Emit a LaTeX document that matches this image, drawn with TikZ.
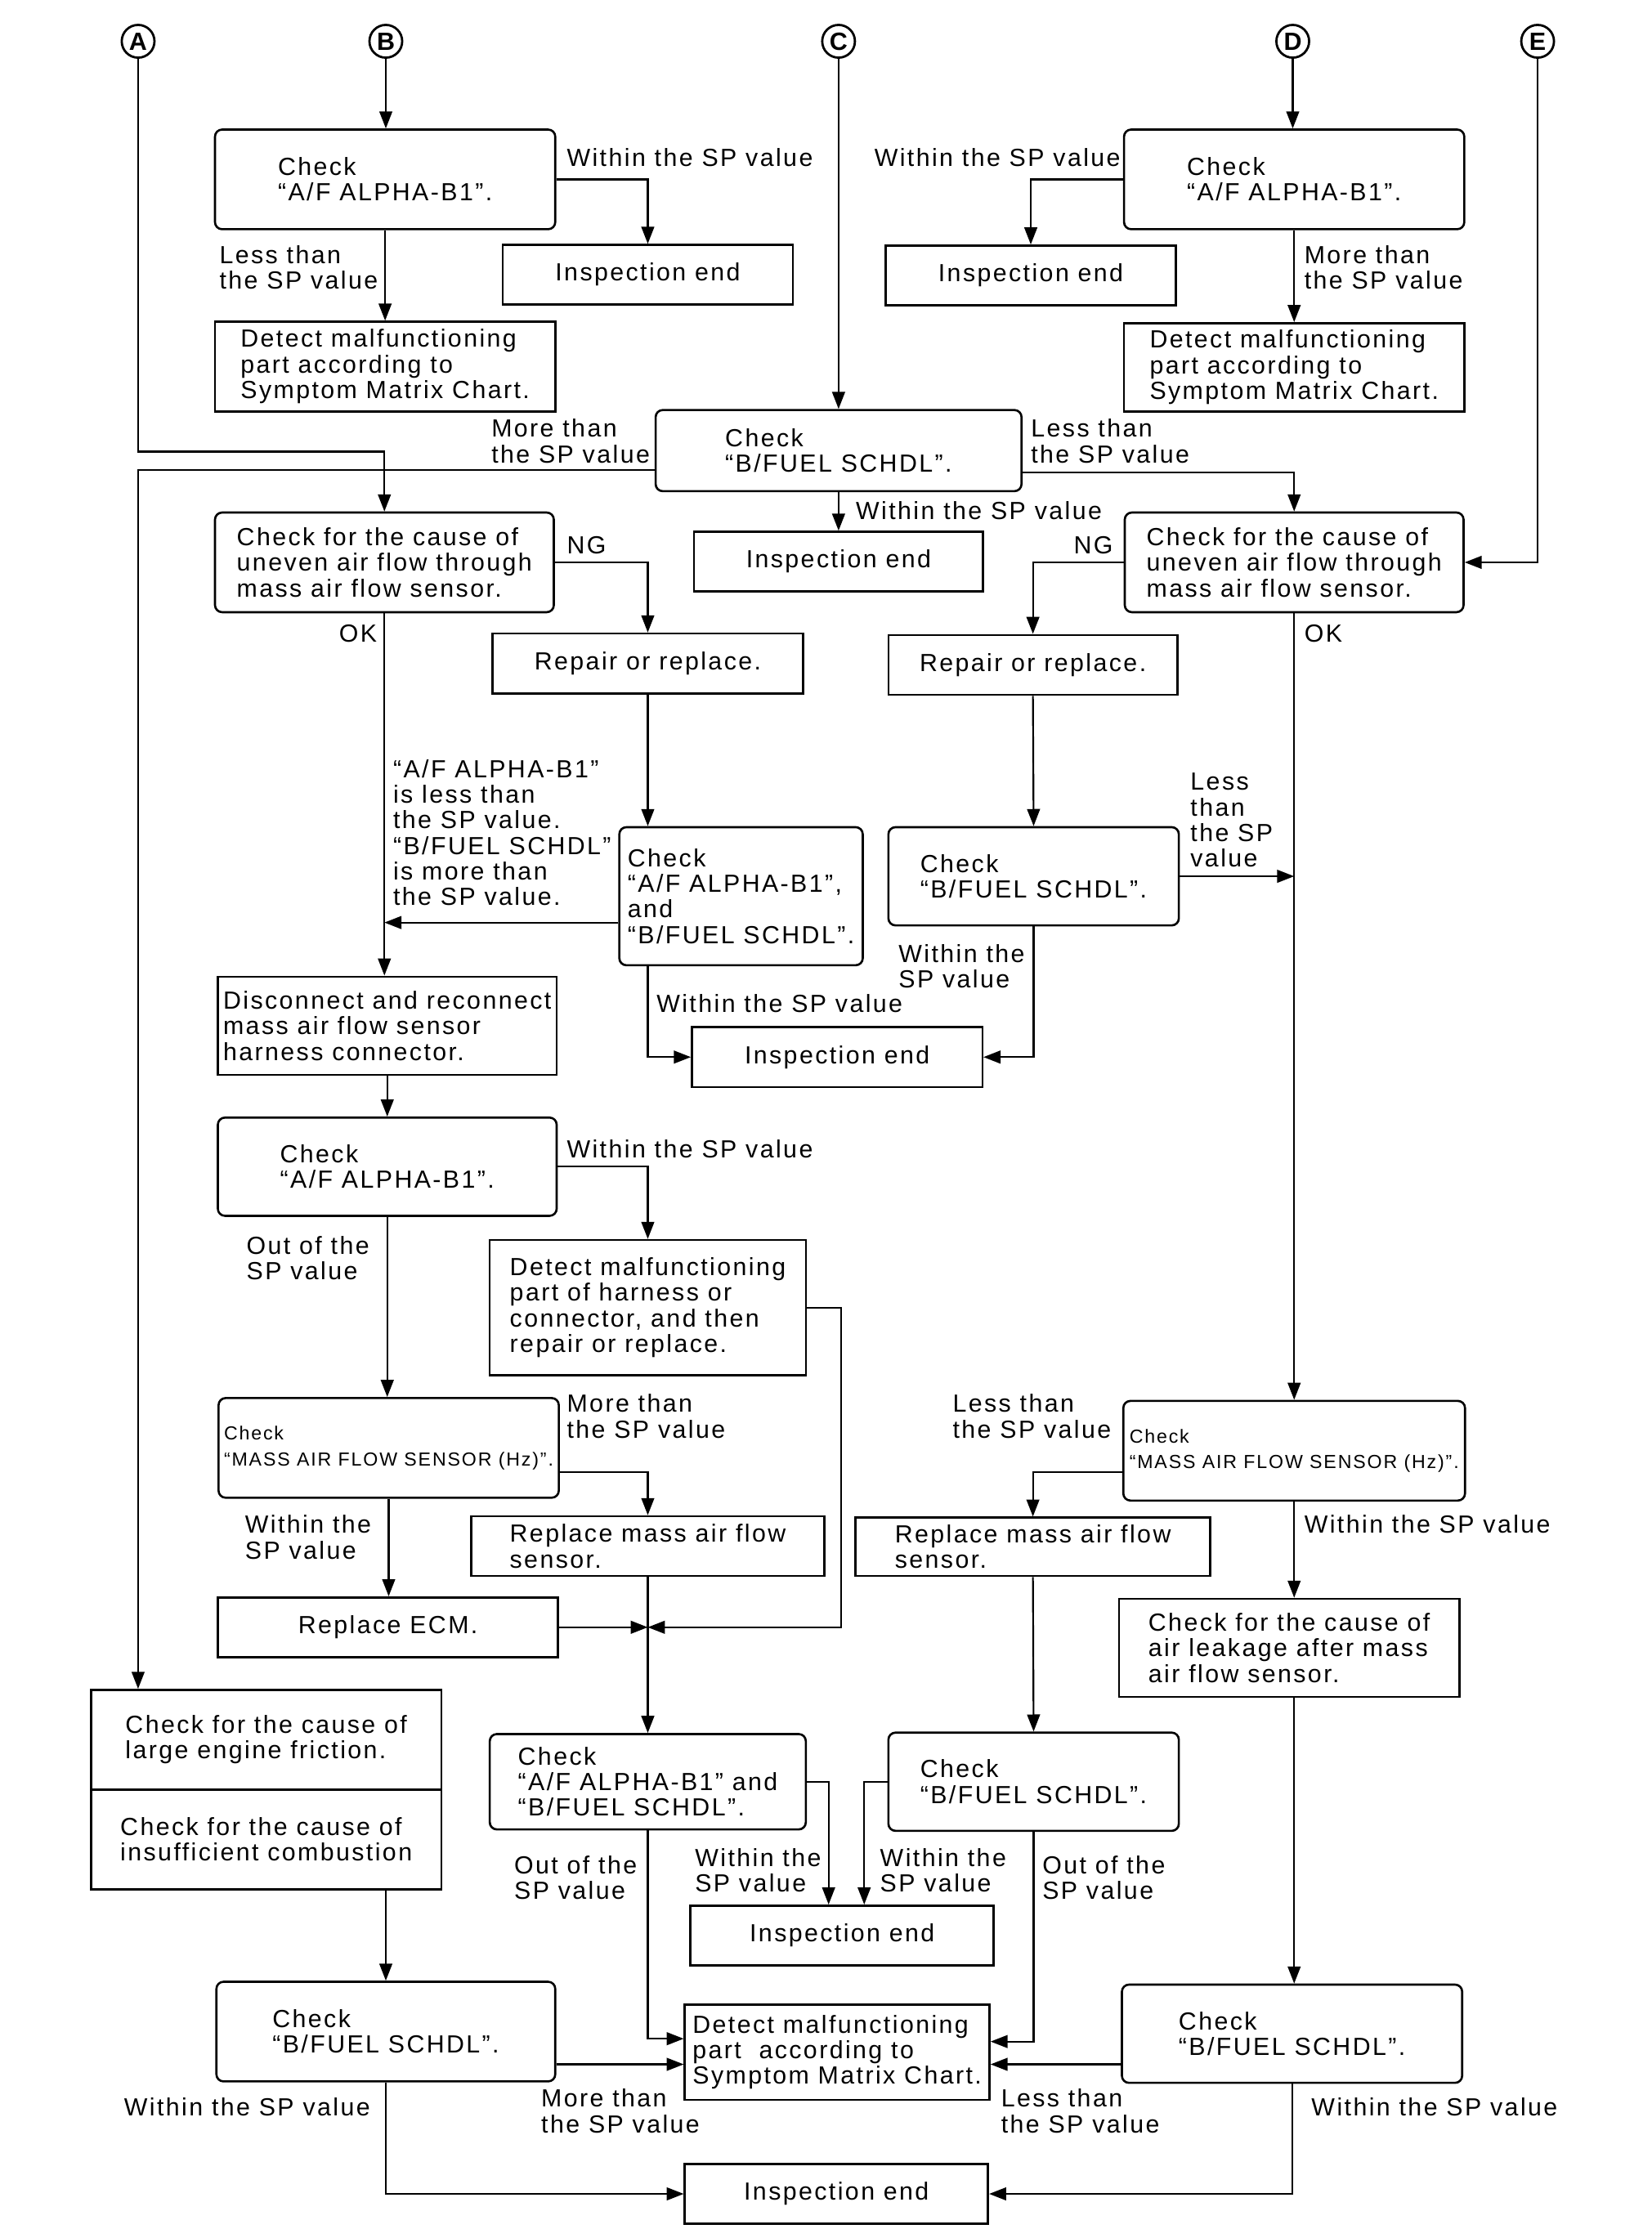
\documentclass[tikz,border=0pt]{standalone}
\usepackage{fontspec}
\setmainfont{Liberation Sans}[LetterSpace=8]
\usetikzlibrary{arrows.meta}
\tikzstyle{rbox}=[draw,line width=1.5pt,rounded corners=5pt,align=left,inner sep=0pt]
\tikzstyle{sbox}=[draw,line width=1.5pt,align=left,inner sep=0pt]
\tikzstyle{flow}=[draw,line width=1.25pt,-{Triangle[length=12pt,width=9pt]}]
\tikzstyle{lbl}=[anchor=base west,align=left,inner sep=0pt]
\tikzstyle{connector}=[circle,draw,line width=1.6pt,minimum size=23pt,inner sep=0pt,font=\fontsize{17.5}{18}\selectfont\bfseries]
\tikzstyle{small}=[font=\fontsize{13.3}{18}\selectfont]

\begin{document}
\begin{tikzpicture}[x=1pt,y=-1pt,font=\fontsize{17.4}{18}\selectfont]
    \path[use as bounding box,fill=white] (0,0) rectangle (1160,1572);

    % First the circled letters
    \foreach \pos/ \name in {{(97,29)/A},{(271,29)/B},{(589,29)/C},{(908,29)/D},{(1080,29)/E}}
        \node[connector] (\name) at \pos {\name};

    % The boxes
    \node[rbox,minimum width=239pt,minimum height=70pt] (ba1) at (270.5,126) {Check\\“A/F ALPHA-B1”.};
    \node[sbox,minimum width=239pt,minimum height=63pt] (dm1) at (270.5,257.5) {Detect malfunctioning\\part according to\\Symptom Matrix Chart.};
    \node[rbox,minimum width=239pt,minimum height=70pt] (bd1) at (909,126) {Check\\“A/F ALPHA-B1”.};
    \node[sbox,minimum width=239pt,minimum height=62pt] (dm2) at (909,258) {Detect malfunctioning\\part according to\\Symptom Matrix Chart.};
    \node[rbox,minimum width=257pt,minimum height=57pt] (bf1) at (589,316.5) {Check\\“B/FUEL SCHDL”.};
    \node[rbox,minimum width=238pt,minimum height=70pt] (ul) at (270,395) {Check for the cause of\\uneven air flow through\\mass air flow sensor.};
    \node[rbox,minimum width=238pt,minimum height=70pt] (ur) at (909,395) {Check for the cause of\\uneven air flow through\\mass air flow sensor.};
    \node[sbox,minimum width=218pt,minimum height=42pt] (rr1) at (455,466) {Repair or replace.};
    \node[sbox,minimum width=203pt,minimum height=42pt] (rr2) at (725.5,467) {Repair or replace.};
    \node[rbox,minimum width=171pt,minimum height=97pt] (cab) at (520.5,629.5) {Check\\“A/F ALPHA-B1”,\\and\\“B/FUEL SCHDL”.};
    \node[rbox,minimum width=204pt,minimum height=69pt] (cb2) at (726,615.5) {Check\\“B/FUEL SCHDL”.};
    \node[sbox,minimum width=238pt,minimum height=69pt] (dr) at (272,720.5) {Disconnect and reconnect\\mass air flow sensor\\harness connector.};
    \node[rbox,minimum width=238pt,minimum height=69pt] (ba3) at (272,819.5) {Check\\“A/F ALPHA-B1”.};
    \node[sbox,minimum width=222pt,minimum height=95pt] (dh) at (455,918.5) {Detect malfunctioning\\part of harness or\\connector, and then\\repair or replace.};
    \node[rbox,small,minimum width=239pt,minimum height=70pt] (ma) at (273,1017) {Check\\“MASS AIR FLOW SENSOR (Hz)”.};
    \node[sbox,minimum width=248pt,minimum height=42pt] (rm1) at (455,1086) {Replace mass air flow\\sensor.};
    \node[sbox,minimum width=239pt,minimum height=42pt] (re) at (272.5,1143) {Replace ECM.};
    \node[rbox,minimum width=222pt,minimum height=67pt] (cab2) at (455,1251.5) {Check\\“A/F ALPHA-B1” and\\“B/FUEL SCHDL”.};
    \node[rbox,small,minimum width=240pt,minimum height=70pt] (mr) at (909,1019) {Check\\“MASS AIR FLOW SENSOR (Hz)”.};
    \node[sbox,minimum width=249pt,minimum height=41pt] (rm2) at (725.5,1086.5) {Replace mass air flow\\sensor.};
    \node[sbox,minimum width=239pt,minimum height=69pt] (cl) at (905.5,1157.5) {Check for the cause of\\air leakage after mass\\air flow sensor.};
    \node[rbox,minimum width=204pt,minimum height=69pt] (cb3) at (726,1251.5) {Check\\“B/FUEL SCHDL”.};
    \node[sbox,minimum width=246pt,minimum height=70pt] (ef1) at (187,1222) {Check for the cause of\\large engine friction.};
    \node[sbox,minimum width=246pt,minimum height=70pt] (ef2) at (187,1292) {Check for the cause of\\insufficient combustion};
    \node[rbox,minimum width=238pt,minimum height=70pt] (cb4) at (271,1427) {Check\\“B/FUEL SCHDL”.};
    \node[rbox,minimum width=239pt,minimum height=69pt] (cb5) at (907.5,1428.5) {Check\\“B/FUEL SCHDL”.};
    \node[sbox,minimum width=214pt,minimum height=67pt] (dm3) at (588,1441.5) {Detect malfunctioning\\part~ according to\\Symptom Matrix Chart.};

    \foreach \pos/ \name/ \w in {{(455,193)/ie1/204},{(724,193.5)/ie2/204},{(589,394.5)/ie3/203},
                                 {(588,742.5)/ie4/204},{(591.5,1359.5)/ie5/213},{(587.5,1541)/ie6/213}}
        \node[sbox,minimum width=\w pt,minimum height=42pt] (\name) at \pos {Inspection end};

    % Connect the letters
    \draw[flow] (B) -- (B |- ba1.north);
    \draw[flow] (C) -- (C |- bf1.north);
    \draw[flow] (D) -- (D |- bd1.north);
    \draw[flow] (E) |- (ur.east);
    \draw[flow] (A) |- ([yshift=42pt]ul.north) -- (ul.north);

    % Top checks
    \draw[flow] (ba1.east) -| (ie1.north);
    \draw[flow] (ba1.south) -- (dm1.north);
    \draw[flow] (bd1.west) -| (ie2.north);
    \draw[flow] (bd1.south) -- (dm2.north);

    \coordinate (bfl) at ([yshift=-13.5pt]bf1.west);
    \coordinate (bfr) at ([yshift=-15.5pt]bf1.east);
    \draw[flow] (bfl) -| (A |- ef1.north);
    \draw[flow] (bfr) -| (ur.north);
    \draw[flow] (bf1.south) -- (bf1.south |- ie3.north);

    % Uneven air flow
    \draw[flow] (ul.east) -| (rr1.north);
    \draw[flow] (ur.west) -| (rr2.north);
    \draw[flow] (ul.south) -- (ul.south |- dr.north);
    \draw[flow] (rr1.south) -- (rr1.south |- cab.north);
    \coordinate (cabl) at ([yshift=-18.5pt]cab.west);
    \draw[flow] (cabl) -- (cabl -| ul.south);
    \draw[flow] (rr1.south |- cab.south) |- (ie4.west);
    \draw[flow] (rr2.south) -- (cb2.north);
    \draw[flow] (cb2.east) -- (cb2.east -| ur.south);
    \draw[flow] (cb2.south) |- (ie4.east);
    \draw[flow] (ur.south) -- (ur.south |- mr.north);

    % Harness connector and sensor
    \draw[flow] (dr.south) -- (ba3.north);
    \draw[flow] (ba3.east) -| (dh.north);
    \draw[flow] (ba3.south) -- (ba3.south |- ma.north);
    \coordinate (mg) at (rm1.south |- re.east);
    \draw[flow] (dh.east) -- ++(24,0) |- (mg);
    \coordinate (mae) at ([yshift=-17pt]ma.east);
    \draw[flow] (mae) -| (rm1.north);
    \draw[flow] (ma.south) -- (ma.south |- re.north);
    \draw[flow] (re.east) -- (mg);
    \draw[flow] (rm1.south) -- (cab2.north);

    \coordinate (mrw) at ([yshift=-15pt]mr.west);
    \draw[flow] (mrw) -| (rm2.north);
    \draw[flow] (rm2.south) -- (cb3.north);
    \draw[flow] (mr.south) -- (mr.south |- cl.north);
    \draw[flow] (mr.south |- cl.south) -- (mr.south |- cb5.north);

    % Bottom checks
    \draw[flow] (cab2.east) -| ([xshift=-9.5pt]ie5.north);
    \draw[flow] (cb3.west) -| ([xshift=15.5pt]ie5.north);
    \draw[flow] (cab2.south) |- ([yshift=9.5pt]dm3.west);
    \draw[flow] (cb3.south) |- ([yshift=7.5pt]dm3.east);
    \draw[flow] (cb4.north |- ef2.south) -- (cb4.north);
    \draw[flow] ([yshift=-23pt]cb4.east) -- ([yshift=-8.5pt]dm3.west);
    \draw[flow] ([yshift=-21.5pt]cb5.west) -- ([yshift=-8.5pt]dm3.east);
    \draw[flow] (cb4.south) |- (ie6.west);
    \draw[flow] (cb5.south) |- (ie6.east);

    % Labels on the connectors (base of the last line)
    \node[lbl] (l1) at (398,117) {Within the SP value};
    \node[lbl] (l2) at (154,203) {Less than\\the SP value};
    \node[lbl] (l3) at (614,117) {Within the SP value};
    \node[lbl] (l4) at (916,203) {More than\\the SP value};
    \node[lbl] (l5) at (345,325) {More than\\the SP value};
    \node[lbl] (l6) at (724,325) {Less than\\the SP value};
    \node[lbl] (l7) at (601,365) {Within the SP value};
    \node[lbl] (l8) at (398,389) {NG};
    \node[lbl] (l9) at (754,389) {NG};
    \node[lbl] (l10) at (238,451) {OK};
    \node[lbl] (l11) at (916,451) {OK};
    \node[lbl] (l12) at (276,636) {“A/F ALPHA-B1”\\is less than\\the SP value.\\“B/FUEL SCHDL”\\is more than\\the SP value.};
    \node[lbl] (l13) at (836,609) {Less\\than\\the SP\\value};
    \node[lbl] (l14) at (461,711) {Within the SP value};
    \node[lbl] (l15) at (631,694) {Within the\\SP value};
    \node[lbl] (l16) at (398,813) {Within the SP value};
    \node[lbl] (l17) at (173,899) {Out of the\\SP value};
    \node[lbl] (l18) at (398,1010) {More than\\the SP value};
    \node[lbl] (l19) at (172,1095) {Within the\\SP value};
    \node[lbl] (l20) at (669,1010) {Less than\\the SP value};
    \node[lbl] (l21) at (916,1077) {Within the SP value};
    \node[lbl] (l22) at (361,1334) {Out of the\\SP value};
    \node[lbl] (l23) at (488,1329) {Within the\\SP value};
    \node[lbl] (l24) at (618,1329) {Within the\\SP value};
    \node[lbl] (l25) at (732,1334) {Out of the\\SP value};
    \node[lbl] (l26) at (87,1486) {Within the SP value};
    \node[lbl] (l27) at (380,1498) {More than\\the SP value};
    \node[lbl] (l28) at (703,1498) {Less than\\the SP value};
    \node[lbl] (l29) at (921,1486) {Within the SP value};
\end{tikzpicture}
\end{document}
